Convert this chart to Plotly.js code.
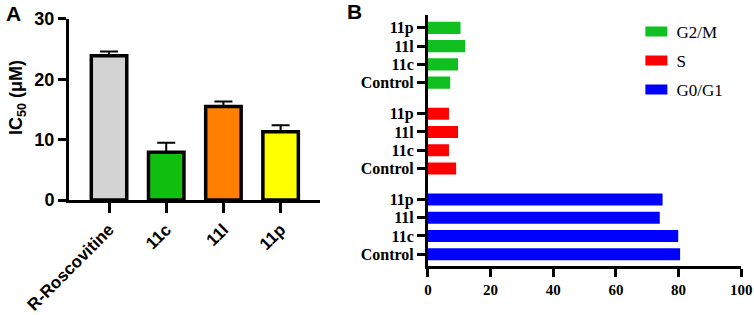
<!DOCTYPE html>
<html><head><meta charset="utf-8">
<script src="https://cdn.plot.ly/plotly-3.0.1.min.js"></script>
<style>body{margin:0;padding:0;background:#fff}#c{width:754px;height:315px}</style>
</head><body><div id="c"></div>
<script>
const compoundsA = ["R-Roscovitine", "11c", "11l", "11p"];
const ic50 = [23.9, 7.9, 15.5, 11.3];
const ic50Err = [0.7, 1.6, 0.8, 1.1];
const colorsA = ["#d3d3d3", "#10c010", "#ff8000", "#ffff00"];

const groupsB = ["Control", "11c", "11l", "11p"];
const g0g1 = [80.5, 79.9, 74.0, 74.9];
const sPhase = [9.0, 6.7, 9.6, 6.7];
const g2m = [7.1, 9.6, 11.9, 10.4];
const xTicksB = [0, 20, 40, 60, 80, 100];

// slot positions for grouped horizontal bars
const posG0 = [0, 1, 2, 3];
const posS = [4.7, 5.7, 6.7, 7.7];
const posG2 = [9.4, 10.4, 11.4, 12.4];

const traces = [
  {type:"bar", x:[0,1,2,3], y:ic50, xaxis:"x", yaxis:"y", width:0.62,
   marker:{color:colorsA, line:{color:"#000", width:3.5}},
   error_y:{type:"data", array:ic50Err, arrayminus:[0,0,0,0], symmetric:false, color:"#000", thickness:2, width:9},
   showlegend:false, hoverinfo:"skip"},
  {type:"bar", orientation:"h", x:g2m, y:posG2, xaxis:"x2", yaxis:"y2", width:0.66,
   marker:{color:"#10c020"}, name:"G2/M", legendgroup:"a"},
  {type:"bar", orientation:"h", x:sPhase, y:posS, xaxis:"x2", yaxis:"y2", width:0.66,
   marker:{color:"#ff0000"}, name:"S", legendgroup:"b"},
  {type:"bar", orientation:"h", x:g0g1, y:posG0, xaxis:"x2", yaxis:"y2", width:0.66,
   marker:{color:"#0000ff"}, name:"G0/G1", legendgroup:"c"}
];

const sansB = {family:"Liberation Sans, Arial, sans-serif", color:"#000", weight:"bold"};
const serifB = {family:"Liberation Serif, Times New Roman, serif", color:"#000", weight:"bold"};

const layout = {
  width:754, height:315, margin:{l:0,r:0,t:0,b:0},
  paper_bgcolor:"#fff", plot_bgcolor:"rgba(0,0,0,0)",
  showlegend:true,
  legend:{x:0.844, y:0.956, xanchor:"left", yanchor:"top", traceorder:"grouped",
    font:{family:"Liberation Serif, Times New Roman, serif", size:17, color:"#000"},
    tracegroupgap:4, itemwidth:30, bgcolor:"rgba(0,0,0,0)"},
  xaxis:{domain:[0.0915,0.4245], range:[-0.70,3.69], tickvals:[0,1,2,3], ticktext:compoundsA,
    tickangle:-45, showline:true, linecolor:"#000", linewidth:3, ticks:"outside", ticklen:10, tickwidth:3,
    tickcolor:"#000", showgrid:false, zeroline:false, anchor:"y",
    tickfont:Object.assign({size:17}, sansB)},
  yaxis:{domain:[0.365,0.94], range:[0,30], tickvals:[0,10,20,30], showline:true, linecolor:"#000",
    linewidth:3, ticks:"outside", ticklen:8, tickwidth:3, tickcolor:"#000", showgrid:false, zeroline:false, anchor:"x",
    tickfont:Object.assign({size:18}, sansB)},
  xaxis2:{domain:[0.5676,0.983], range:[0,100], tickvals:xTicksB, showline:true, linecolor:"#000",
    linewidth:3, ticks:"outside", ticklen:8, tickwidth:3, tickcolor:"#000", showgrid:false, zeroline:false, anchor:"y2",
    tickfont:Object.assign({size:15}, serifB)},
  yaxis2:{domain:[0.156,0.952], range:[-0.64,13.1],
    tickvals:posG0.concat(posS, posG2), ticktext:groupsB.concat(groupsB, groupsB),
    showline:true, linecolor:"#000", linewidth:3, ticks:"outside", ticklen:8, tickwidth:3, tickcolor:"#000",
    showgrid:false, zeroline:false, anchor:"x2",
    tickfont:Object.assign({size:16}, serifB)},
  annotations:[
    {text:"<b>A</b>", x:0.005, y:1.0, xref:"paper", yref:"paper", xanchor:"left", yanchor:"top", showarrow:false,
     font:{family:"Liberation Sans, Arial, sans-serif", size:21, color:"#000"}},
    {text:"<b>B</b>", x:0.458, y:1.005, xref:"paper", yref:"paper", xanchor:"left", yanchor:"top", showarrow:false,
     font:{family:"Liberation Sans, Arial, sans-serif", size:21, color:"#000"}},
    {text:"<b>IC<sub>50</sub> (μM)</b>", x:17/754, y:1-98/315, xref:"paper", yref:"paper", xanchor:"center", yanchor:"middle",
     textangle:-90, showarrow:false, font:{family:"Liberation Sans, Arial, sans-serif", size:18, color:"#000"}}
  ]
};
Plotly.newPlot("c", traces, layout, {displayModeBar:false, staticPlot:true}).then(function(){
  document.querySelectorAll("#c .legend .legendpoints path").forEach(function(p){
    p.setAttribute("d", "M11,5H-11V-5H11Z");
  });
});
</script></body></html>
